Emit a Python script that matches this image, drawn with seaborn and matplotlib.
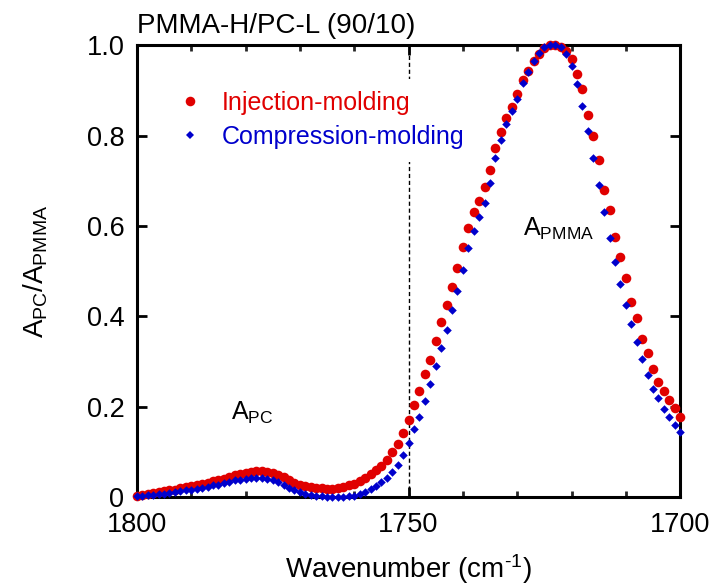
import matplotlib
matplotlib.use("Agg")
import matplotlib.pyplot as plt
from matplotlib.lines import Line2D
from matplotlib.ticker import MultipleLocator
import pandas as pd
import seaborn as sns

# FTIR carbonyl region, 1 cm^-1 steps from 1800 down to 1700
wavenumber = list(range(1800, 1699, -1))

injection = [
    0.003, 0.005, 0.007, 0.009, 0.011, 0.013, 0.015, 0.017, 0.020, 0.022,
    0.024, 0.027, 0.029, 0.032, 0.035, 0.038, 0.041, 0.045, 0.048, 0.051,
    0.054, 0.056, 0.057, 0.057, 0.056, 0.054, 0.050, 0.045, 0.038, 0.032,
    0.028, 0.025, 0.023, 0.021, 0.020, 0.019, 0.019, 0.020, 0.022, 0.026,
    0.030, 0.035, 0.042, 0.051, 0.060, 0.070, 0.082, 0.099, 0.118, 0.143,
    0.171, 0.203, 0.236, 0.272, 0.303, 0.345, 0.388, 0.426, 0.466, 0.507,
    0.554, 0.596, 0.630, 0.656, 0.686, 0.723, 0.773, 0.807, 0.839, 0.864,
    0.891, 0.923, 0.944, 0.965, 0.980, 0.993, 1.000, 1.000, 0.996, 0.988,
    0.970, 0.936, 0.902, 0.846, 0.800, 0.746, 0.680, 0.635, 0.576, 0.532,
    0.486, 0.432, 0.396, 0.350, 0.318, 0.284, 0.255, 0.235, 0.215, 0.198,
    0.178,
]

compression = [
    0.002, 0.003, 0.004, 0.005, 0.007, 0.008, 0.010, 0.012, 0.013, 0.015,
    0.017, 0.019, 0.021, 0.023, 0.026, 0.028, 0.031, 0.034, 0.037, 0.039,
    0.041, 0.043, 0.043, 0.042, 0.040, 0.037, 0.033, 0.028, 0.021, 0.016,
    0.011, 0.008, 0.005, 0.003, 0.002, 0.001, 0.000, 0.000, 0.001, 0.002,
    0.003, 0.007, 0.012, 0.019, 0.025, 0.033, 0.042, 0.055, 0.072, 0.093,
    0.119, 0.150, 0.178, 0.212, 0.250, 0.290, 0.330, 0.371, 0.415, 0.456,
    0.502, 0.552, 0.588, 0.620, 0.651, 0.695, 0.750, 0.790, 0.825, 0.854,
    0.882, 0.917, 0.941, 0.965, 0.982, 0.997, 1.000, 1.000, 0.995, 0.980,
    0.953, 0.915, 0.866, 0.810, 0.750, 0.690, 0.630, 0.574, 0.520, 0.472,
    0.425, 0.384, 0.344, 0.306, 0.270, 0.240, 0.219, 0.196, 0.178, 0.160,
    0.145,
]

series_names = ["Injection-molding", "Compression-molding"]
series_colors = ["#e00000", "#0000cc"]
x_ticks = [1800, 1750, 1700]
y_ticks = [0, 0.2, 0.4, 0.6, 0.8, 1.0]
y_tick_labels = ["0", "0.2", "0.4", "0.6", "0.8", "1.0"]
title_text = "PMMA-H/PC-L (90/10)"

sns.set_theme(style="ticks")
plt.rcParams["font.family"] = ["Liberation Sans", "DejaVu Sans"]
plt.rcParams["mathtext.fontset"] = "custom"
plt.rcParams["mathtext.rm"] = "Liberation Sans"
plt.rcParams["mathtext.it"] = "Liberation Sans"
plt.rcParams["mathtext.bf"] = "Liberation Sans"

df_inj = pd.DataFrame({"wavenumber": wavenumber, "ratio": injection})
df_comp = pd.DataFrame({"wavenumber": wavenumber, "ratio": compression})

fig = plt.figure(figsize=(7.13, 5.87), dpi=100)
ax = fig.add_axes([0.192, 0.153, 0.762, 0.770])

# boundary between the PC and PMMA carbonyl bands
ax.axvline(1750, color="black", lw=1.0, ls=(0, (3, 2)), zorder=1)

sns.scatterplot(data=df_inj, x="wavenumber", y="ratio", ax=ax, marker="o",
                s=48, color=series_colors[0], linewidth=0, clip_on=False,
                zorder=3)
sns.scatterplot(data=df_comp, x="wavenumber", y="ratio", ax=ax, marker="D",
                s=19, color=series_colors[1], linewidth=0, clip_on=False,
                zorder=4)

ax.set_xlim(1800, 1700)
ax.set_ylim(0, 1.0)
ax.set_xticks(x_ticks)
ax.set_xticklabels([str(t) for t in x_ticks])
ax.xaxis.set_minor_locator(MultipleLocator(10))
ax.set_yticks(y_ticks)
ax.set_yticklabels(y_tick_labels)

for side in ["left", "right", "top", "bottom"]:
    ax.spines[side].set_visible(True)
    ax.spines[side].set_linewidth(2.2)
    ax.spines[side].set_color("black")

ax.tick_params(axis="both", which="major", direction="in", length=7,
               width=2, labelsize=19.5, top=True, right=True, colors="black")
ax.tick_params(axis="x", which="major", pad=11)
ax.tick_params(axis="y", which="major", pad=9)
ax.tick_params(axis="x", which="minor", direction="in", length=4.5,
               width=2, top=True)

ax.set_xlabel(r"Wavenumber (cm$^{\text{-1}}$)", fontsize=20,
              color="black", labelpad=10)
ax.set_ylabel(r"$\mathregular{A_{PC}/A_{PMMA}}$", fontsize=20,
              color="black", labelpad=26)

ax.text(1778.8, 0.171, r"$\mathregular{A_{PC}}$", fontsize=18,
        ha="center", va="baseline", color="black")
ax.text(1729.0, 0.578, r"$\mathregular{A_{PMMA}}$", fontsize=18,
        ha="left", va="baseline", color="black")

fig.text(0.192, 0.943, title_text, fontsize=20, ha="left",
         va="baseline", color="black")

handles = [
    Line2D([], [], marker="o", ls="none", markersize=6.9,
           markerfacecolor=series_colors[0], markeredgewidth=0),
    Line2D([], [], marker="D", ls="none", markersize=4.3,
           markerfacecolor=series_colors[1], markeredgewidth=0),
]
leg = ax.legend(handles, series_names, loc="upper left",
                bbox_to_anchor=(0.047, 0.926), fontsize=18, frameon=True,
                facecolor="white", edgecolor="none", framealpha=1,
                fancybox=False, handlelength=1.2, handletextpad=0.68,
                labelspacing=0.4, borderpad=0.5, borderaxespad=0)
for txt, col in zip(leg.get_texts(), series_colors):
    txt.set_color(col)
leg.set_zorder(2)

fig.savefig("out.png", dpi=100)
